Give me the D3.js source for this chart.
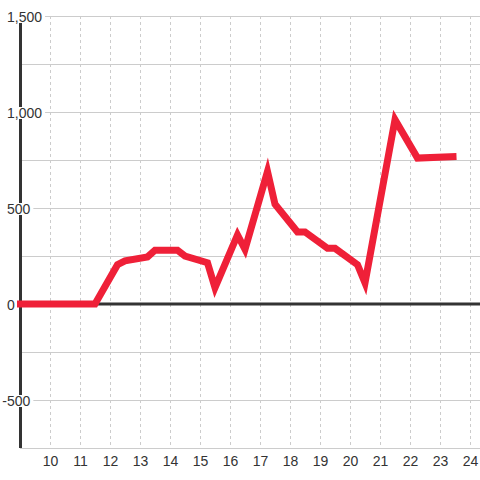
<!DOCTYPE html>
<html>
<head>
<meta charset="utf-8">
<script src="https://cdn.jsdelivr.net/npm/d3@7"></script>
<style>
    body { margin: 0; background: #fff; }
    text { font-family: "Liberation Sans", Arial, sans-serif; font-size: 14px; fill: #333; }
</style>
</head>
<body>
<svg width="480" height="480"></svg>
<script>
// hour of day (decimal) and value
let hours = [8.9, 11.5, 12.25, 12.5, 13.25, 13.5, 14.25, 14.5, 15.25, 15.5, 16.25, 16.5,
    17.25, 17.5, 18.25, 18.5, 19.25, 19.5, 20.25, 20.5, 21.5, 22.25, 23.55];
let values = [0, 0, 205, 225, 245, 280, 280, 250, 215, 85, 360, 285,
    690, 520, 375, 375, 290, 290, 205, 110, 960, 760, 768];
let xTicks = [10, 11, 12, 13, 14, 15, 16, 17, 18, 19, 20, 21, 22, 23, 24];
let yTicks = [1500, 1000, 500, 0, -500];
let yGrid = [1500, 1250, 1000, 750, 500, 250, -250, -500, -750];

let data = hours.map((h, i) => ({hour: h, value: values[i]}));

let svg = d3.select("svg"),
    margin = {top: 16, right: 0, bottom: 32, left: 20},
    width = +svg.attr("width") - margin.left - margin.right,
    height = +svg.attr("height") - margin.top - margin.bottom;

let x = d3.scaleLinear().domain([9, 24.333]).range([margin.left, margin.left + width]),
    y = d3.scaleLinear().domain([-750, 1500]).range([margin.top + height, margin.top]);

let fmt = d3.formatLocale({decimal: ".", thousands: ",", grouping: [3], currency: ["", ""], minus: "-"}).format(",");

// horizontal grid
svg.append("g")
    .selectAll("line")
    .data(yGrid)
    .join("line")
    .attr("x1", margin.left)
    .attr("x2", margin.left + width)
    .attr("y1", d => Math.round(y(d)) + 0.5)
    .attr("y2", d => Math.round(y(d)) + 0.5)
    .attr("stroke", "#ccc")
    .attr("stroke-width", 1);

// vertical dashed grid
svg.append("g")
    .selectAll("line")
    .data(xTicks)
    .join("line")
    .attr("x1", d => Math.round(x(d)) + 0.5)
    .attr("x2", d => Math.round(x(d)) + 0.5)
    .attr("y1", y(1500))
    .attr("y2", y(-750))
    .attr("stroke", "#ccc")
    .attr("stroke-dasharray", "3,3");

// y axis + zero line
svg.append("line")
    .attr("x1", margin.left + 0.5).attr("x2", margin.left + 0.5)
    .attr("y1", y(1500)).attr("y2", y(-750))
    .attr("stroke", "#333").attr("stroke-width", 3);
svg.append("line")
    .attr("x1", margin.left).attr("x2", margin.left + width)
    .attr("y1", y(0)).attr("y2", y(0))
    .attr("stroke", "#333").attr("stroke-width", 3);

// y labels with white boxes
let yLab = svg.append("g");
yTicks.forEach(function (t) {
    let g = yLab.append("g");
    let rect = g.append("rect").attr("fill", "#fff");
    let txt = g.append("text")
        .attr("y", y(t) + 5.5)
        .text(fmt(t));
    let x0 = 7;
    if (t < 0) {
        let m = g.append("text").text("-");
        x0 -= m.node().getComputedTextLength();
        m.remove();
    }
    txt.attr("x", x0);
    let w = txt.node().getComputedTextLength();
    rect.attr("x", x0 - 2).attr("width", w + 5)
        .attr("y", y(t) - 5).attr("height", 12);
});

// x labels
svg.append("g")
    .selectAll("text")
    .data(xTicks)
    .join("text")
    .attr("x", d => x(d) + 0.5)
    .attr("y", 466)
    .attr("text-anchor", "middle")
    .text(d => d);

// the line
let line = d3.line()
    .x(d => x(d.hour))
    .y(d => y(d.value));

svg.append("path")
    .datum(data)
    .attr("d", line)
    .attr("fill", "none")
    .attr("stroke", "#ef2038")
    .attr("stroke-width", 7)
    .attr("stroke-linejoin", "miter");
</script>
</body>
</html>
